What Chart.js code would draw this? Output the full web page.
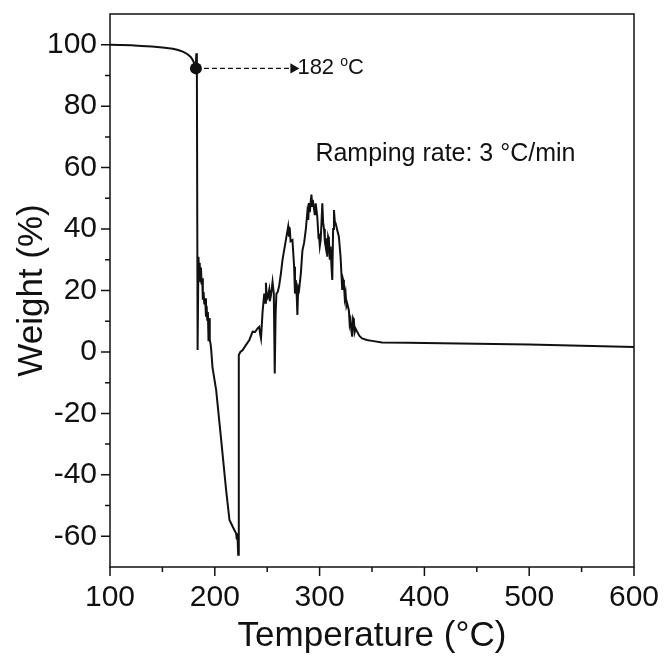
<!DOCTYPE html>
<html>
<head>
<meta charset="utf-8">
<script src="https://cdn.jsdelivr.net/npm/chart.js@4.4.1/dist/chart.umd.min.js"></script>
<style>
  html, body { margin: 0; padding: 0; background: #fff; }
  #tga { display: block; }
</style>
</head>
<body>
<canvas id="tga" width="664" height="657"></canvas>
<script>
'use strict';

// TGA trace: temperature (°C) and weight (%)
const temperature = [
  100, 110, 120, 130, 140, 150, 160, 165, 170, 174, 177, 179, 180.5, 181.7, 182.4, 182.9,
  183.6, 184.4, 185.0, 185.6, 186.2, 186.8, 187.4, 188.0, 188.6, 189.3, 190.0, 190.8, 191.6, 192.2,
  192.8, 193.4, 194.0, 194.6, 195.2, 196.0, 196.6, 197.8, 201.3, 206.1, 210.8, 214.0, 217.1, 219.5,
  220.3, 221.0, 221.6, 222.3, 222.8, 223.0, 224.4, 226.6, 229.8, 233.0, 236.1, 238.5, 240.8, 242.4,
  243.2, 244.1, 245.6, 247.2, 248.0, 248.8, 249.5, 250.3, 251.9, 252.5, 253.6, 255.1, 256.3, 257.2,
  258.0, 258.8, 260.0, 261.4, 263.1, 264.6, 267.8, 270.0, 270.8, 271.5, 272.3, 274.1, 275.7, 276.5,
  277.3, 278.2, 278.8, 279.6, 280.4, 282.1, 283.6, 285.2, 286.8, 288.3, 289.2, 289.9, 290.7, 291.5,
  292.2, 293.0, 293.5, 294.7, 295.5, 296.3, 297.8, 299.0, 299.4, 300.2, 301.0, 301.8, 302.6, 303.4,
  304.2, 305.0, 305.8, 306.5, 307.3, 308.1, 308.9, 309.7, 310.5, 311.3, 312.1, 312.9, 313.7, 314.5,
  315.3, 316.8, 318.4, 320.0, 321.6, 322.4, 323.2, 324.0, 324.8, 325.6, 326.3, 327.9, 328.7, 329.5,
  330.3, 331.1, 331.9, 332.7, 333.5, 334.3, 335.8, 338.0, 340.6, 345.0, 350.0, 359.5, 385, 400,
  450, 500, 550, 600
];
const weight = [
  100.0, 99.9, 99.8, 99.6, 99.4, 99.1, 98.7, 98.3, 97.7, 96.9, 96.0, 95.0, 93.8, 92.6, 97.2, 92.0,
  0.6, 31.0, 25.5, 29.0, 23.0, 27.5, 22.0, 24.0, 17.0, 19.5, 15.5, 17.5, 11.5, 15.0,
  10.5, 13.0, 3.5, 11.0, 4.0, 2.5, 0.6, -5.0, -12.4, -28.7, -45.0, -54.7, -56.9, -58.5,
  -59.0, -61.0, -59.5, -66.0, -40.0, -1.0, 0.0, 0.6, 2.3, 3.9, 6.6, 6.5, 7.7, 8.2,
  6.0, 4.4, 13.1, 19.0, 16.0, 22.5, 18.0, 17.5, 20.2, 16.5, 18.5, 22.8, 19.0, -7.0,
  12.0, 19.0, 19.5, 21.5, 25.6, 30.0, 36.4, 40.8, 37.5, 40.5, 36.0, 36.4, 27.7, 19.0,
  23.4, 18.0, 12.0, 21.0, 20.2, 25.6, 33.0, 35.5, 39.7, 45.5, 43.0, 48.5, 45.5, 48.9,
  51.2, 47.5, 49.5, 46.5, 44.5, 48.4, 44.0, 37.0, 38.5, 34.5, 36.4, 42.0, 48.4, 42.0,
  40.0, 36.0, 34.3, 37.0, 31.0, 37.5, 36.4, 30.0, 34.3, 28.0, 23.4, 40.0, 46.2, 42.5,
  41.9, 39.7, 37.5, 31.0, 20.2, 23.5, 22.3, 17.5, 19.1, 15.0, 15.8, 13.6, 9.0, 10.3,
  7.0, 5.0, 11.0, 10.3, 6.5, 7.6, 6.6, 5.2, 4.4, 3.9, 3.6, 3.1, 3.0, 2.9,
  2.7, 2.4, 2.0, 1.6
];

// onset marker and the dashed arrow to its label
const onsetTemp = 182;
const onsetWeight = 92.3;
const arrowTipTemp = 275;
const onsetLabel = ['182 ', 'o', 'C'];

const noteText = 'Ramping rate: 3 °C/min';
const noteTemp = 296;
const noteWeight = 64.5;

const xMajor = [100, 200, 300, 400, 500, 600];
const xMinor = [150, 250, 350, 450, 550];
const yMajor = [-60, -40, -20, 0, 20, 40, 60, 80, 100];
const yMinor = [-50, -30, -10, 10, 30, 50, 70, 90];

const FONT = '"Liberation Sans", Arial, sans-serif';
const INK = '#111';

const frameAndNotes = {
  id: 'frameAndNotes',
  afterDraw(chart) {
    const { ctx, chartArea: a, scales: { x, y } } = chart;
    ctx.save();
    ctx.strokeStyle = INK;
    ctx.lineWidth = 1.5;
    ctx.strokeRect(a.left, a.top, a.right - a.left, a.bottom - a.top);

    ctx.beginPath();
    xMajor.forEach(v => { const p = x.getPixelForValue(v); ctx.moveTo(p, a.bottom); ctx.lineTo(p, a.bottom + 9); });
    xMinor.forEach(v => { const p = x.getPixelForValue(v); ctx.moveTo(p, a.bottom); ctx.lineTo(p, a.bottom + 5); });
    yMajor.forEach(v => { const p = y.getPixelForValue(v); ctx.moveTo(a.left, p); ctx.lineTo(a.left - 9, p); });
    yMinor.forEach(v => { const p = y.getPixelForValue(v); ctx.moveTo(a.left, p); ctx.lineTo(a.left - 5, p); });
    ctx.stroke();

    // "182 oC" with a raised o
    ctx.fillStyle = INK;
    ctx.textBaseline = 'middle';
    ctx.textAlign = 'left';
    let tx = x.getPixelForValue(arrowTipTemp) + 4;
    const ty = y.getPixelForValue(onsetWeight);
    ctx.font = '22px ' + FONT;
    ctx.fillText(onsetLabel[0], tx, ty);
    tx += ctx.measureText(onsetLabel[0]).width;
    ctx.font = '14px ' + FONT;
    ctx.fillText(onsetLabel[1], tx, ty - 6);
    tx += ctx.measureText(onsetLabel[1]).width;
    ctx.font = '22px ' + FONT;
    ctx.fillText(onsetLabel[2], tx, ty);

    ctx.font = '25px ' + FONT;
    ctx.fillText(noteText, x.getPixelForValue(noteTemp), y.getPixelForValue(noteWeight));
    ctx.restore();
  }
};

new Chart(document.getElementById('tga'), {
  type: 'scatter',
  data: {
    datasets: [
      {
        data: temperature.map((t, i) => ({ x: t, y: weight[i] })),
        showLine: true, borderColor: INK, borderWidth: 2, pointRadius: 0, tension: 0
      },
      {
        data: [{ x: onsetTemp, y: onsetWeight }, { x: arrowTipTemp, y: onsetWeight }],
        showLine: true, borderColor: INK, borderWidth: 1.2, borderDash: [5, 3], pointRadius: 0
      },
      {
        data: [{ x: arrowTipTemp, y: onsetWeight }],
        pointStyle: 'triangle', rotation: 90, pointRadius: 6, backgroundColor: INK, borderColor: INK, borderWidth: 0
      },
      {
        data: [{ x: onsetTemp, y: onsetWeight }],
        pointRadius: 6, backgroundColor: INK, borderColor: INK, borderWidth: 0
      }
    ]
  },
  options: {
    responsive: false,
    animation: false,
    devicePixelRatio: 1,
    layout: { padding: { top: 14, right: 30, left: 0, bottom: 0 } },
    plugins: { legend: { display: false }, tooltip: { enabled: false } },
    scales: {
      x: {
        type: 'linear', min: 100, max: 600,
        grid: { display: false, drawTicks: false },
        border: { display: false },
        afterBuildTicks: s => { s.ticks = xMajor.map(v => ({ value: v })); },
        afterFit: s => { s.height = 90; s.paddingLeft = 0; s.paddingRight = 0; },
        ticks: { color: INK, font: { family: FONT, size: 30 }, padding: 13, maxRotation: 0 },
        title: { display: true, text: 'Temperature (°C)', color: INK, font: { family: FONT, size: 35 }, padding: { top: 0, bottom: 0 } }
      },
      y: {
        type: 'linear', min: -70, max: 110,
        grid: { display: false, drawTicks: false },
        border: { display: false },
        afterBuildTicks: s => { s.ticks = yMajor.map(v => ({ value: v })); },
        afterFit: s => { s.width = 110; s.paddingTop = 0; s.paddingBottom = 0; },
        ticks: { color: INK, font: { family: FONT, size: 30 }, padding: 13 },
        title: { display: true, text: 'Weight (%)', color: INK, font: { family: FONT, size: 35 }, padding: { top: 11, bottom: 0 } }
      }
    }
  },
  plugins: [frameAndNotes]
});
</script>
</body>
</html>
